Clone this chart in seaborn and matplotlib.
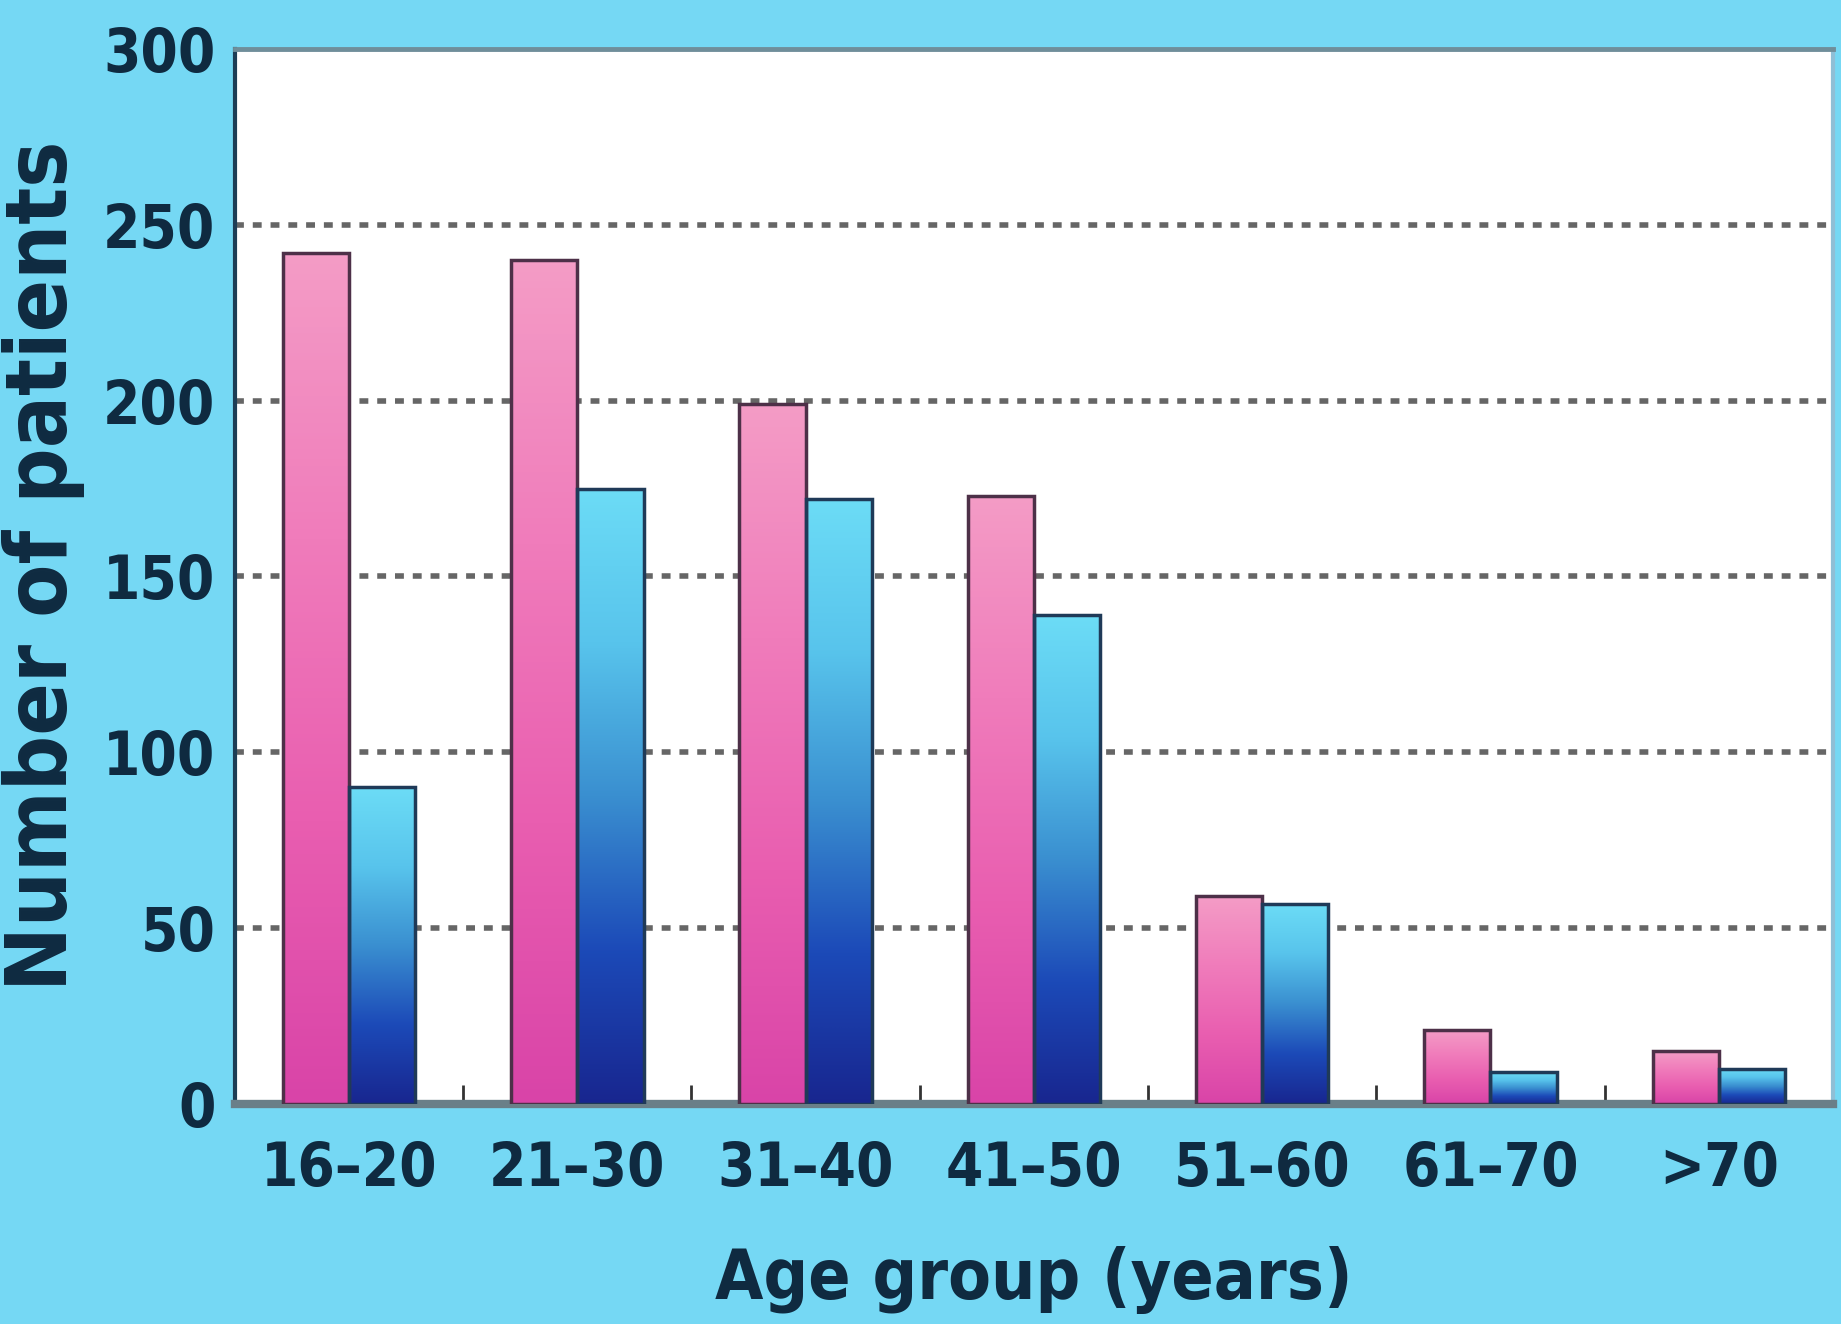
import numpy as np
import pandas as pd
import matplotlib
matplotlib.use("Agg")
import matplotlib.pyplot as plt
from matplotlib.colors import LinearSegmentedColormap
import seaborn as sns

# ---- data ----
age_groups = ["16\u201320", "21\u201330", "31\u201340", "41\u201350", "51\u201360", "61\u201370", ">70"]
series_a = [242, 240, 199, 173, 59, 21, 15]   # pink bars
series_b = [90, 175, 172, 139, 57, 9, 10]     # blue bars
series_names = ["A", "B"]
y_ticks = [0, 50, 100, 150, 200, 250, 300]

df = pd.DataFrame({
    "age": age_groups * 2,
    "count": series_a + series_b,
    "series": [series_names[0]] * len(age_groups) + [series_names[1]] * len(age_groups),
})

BG = "#75d8f4"
TXT = "#0f2a40"

sns.set_theme(style="white")
plt.rcParams["font.family"] = ["DejaVu Sans"]

fig = plt.figure(figsize=(18.41, 13.24), dpi=100, facecolor=BG)
ax = fig.add_axes([0.1276, 0.1662, 0.868, 0.7968])
ax.set_facecolor("white")

sns.barplot(data=df, x="age", y="count", hue="series", hue_order=series_names,
            order=age_groups, palette=["#ee7ab8", "#3a8fd0"], width=0.58,
            legend=False, ax=ax, zorder=3)

pink_cmap = LinearSegmentedColormap.from_list(
    "pink", ["#d944a8", "#e95eb0", "#f07cbb", "#f49cc6"])
blue_cmap = LinearSegmentedColormap.from_list(
    "blue", ["#18268f", "#1c4ab8", "#3a8fd0", "#58c4ec", "#6cdcf6"])
grad = np.linspace(0, 1, 256).reshape(-1, 1)

edge_cols = ["#4d3048", "#1f3a58"]
for cont, cmap, ec in zip(ax.containers, [pink_cmap, blue_cmap], edge_cols):
    for patch in cont.patches:
        x0, y0 = patch.get_x(), patch.get_y()
        w, h = patch.get_width(), patch.get_height()
        im = ax.imshow(grad, extent=[x0, x0 + w, y0, y0 + h], aspect="auto",
                       cmap=cmap, origin="lower", zorder=2.9, interpolation="bicubic")
        im.set_clip_path(patch)
        patch.set_facecolor("none")
        patch.set_edgecolor(ec)
        patch.set_linewidth(2.5)
        patch.set_zorder(3)

ax.set_xlim(-0.5, 6.5)
ax.set_ylim(0, 300)
ax.set_aspect("auto")

# grid
for yv in y_ticks[1:-1]:
    ax.axhline(yv, color="#666666", linestyle=(0, (1.6, 1.6)), linewidth=4, zorder=1)

# spines
ax.spines["top"].set_color("#6f8e9a")
ax.spines["top"].set_linewidth(3.5)
ax.spines["left"].set_color("#1d3d55")
ax.spines["left"].set_linewidth(3)
ax.spines["bottom"].set_color("#6a7f88")
ax.spines["bottom"].set_linewidth(6)
ax.spines["right"].set_color("#8fbfd6")
ax.spines["right"].set_linewidth(3)
for s in ax.spines.values():
    s.set_visible(True)

font_kw = dict(family="DejaVu Sans", stretch="condensed", weight="bold", color=TXT)

ax.set_yticks(y_ticks)
ax.set_yticklabels([str(v) for v in y_ticks], fontsize=43, **font_kw)
ax.tick_params(axis="y", length=0, pad=14)

ax.set_xticks(range(len(age_groups)))
ax.set_xticklabels(age_groups, fontsize=43, **font_kw)
ax.tick_params(axis="x", which="major", length=0, pad=26)
ax.set_xticks(np.arange(0.5, len(age_groups) - 1, 1.0), minor=True)
ax.tick_params(axis="x", which="minor", direction="in", length=14, width=2,
               color="#333333", bottom=True)

ax.set_xlabel("Age group (years)", fontsize=50, labelpad=34, **font_kw)
ax.set_ylabel("Number of patients", fontsize=62, **font_kw)
ax.yaxis.set_label_coords(-0.094, 0.51)

fig.savefig("out.png", dpi=100, facecolor=BG)
